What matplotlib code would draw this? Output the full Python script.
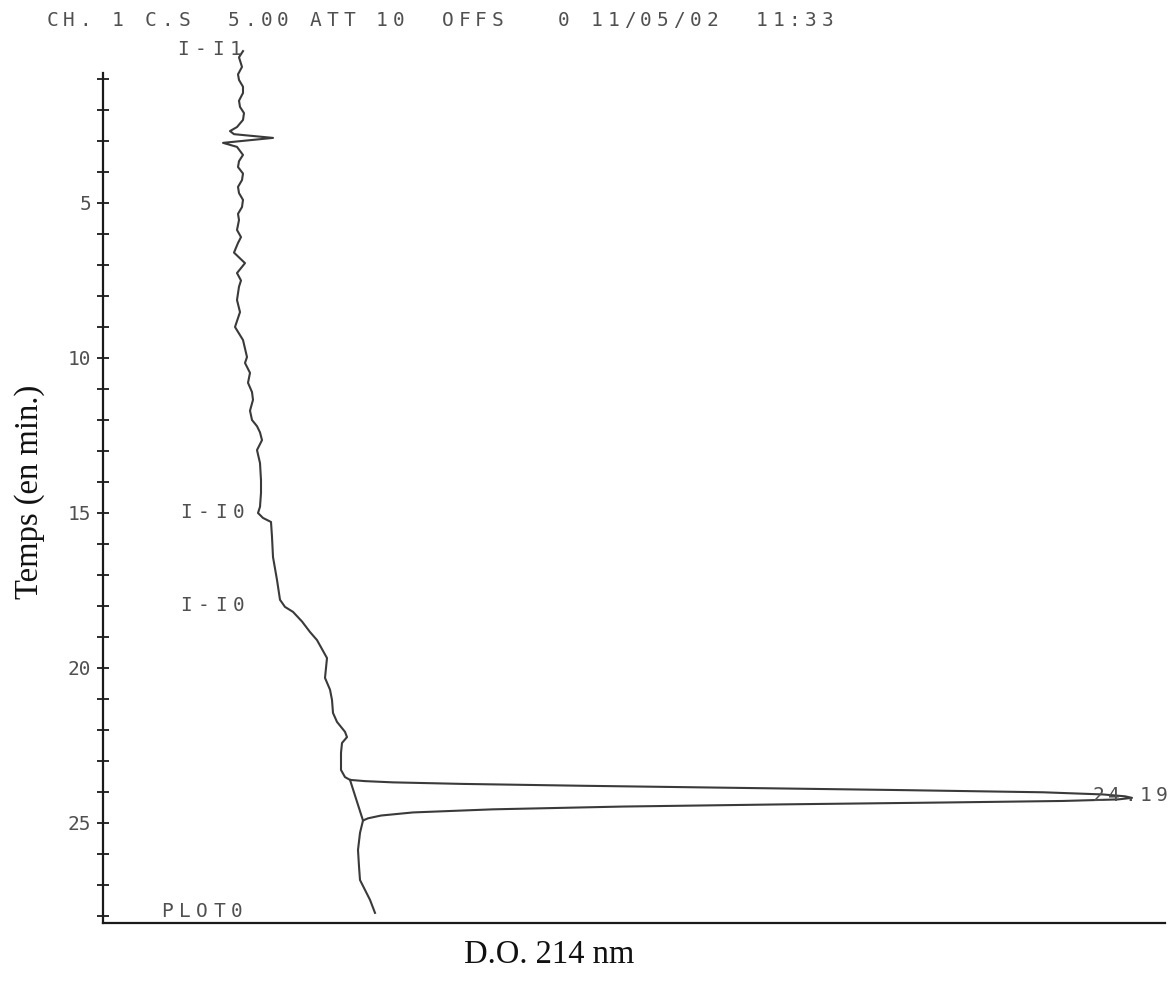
import matplotlib
matplotlib.use("Agg")
import matplotlib.pyplot as plt
from matplotlib import transforms

# ---- data (time in min, absorbance in arbitrary D.O. units) ----
baseline_time = [0.10, 0.30, 0.61, 0.85, 1.03, 1.25, 1.45, 1.70, 1.90, 2.10, 2.32, 2.55, 2.68, 2.78,
                 2.90, 3.06, 3.19, 3.45, 3.65, 3.84, 4.05, 4.26, 4.48, 4.68, 4.90, 5.13, 5.35,
                 5.55, 5.87, 6.10, 6.29, 6.60, 6.94, 7.26, 7.50, 7.70, 8.13, 8.52, 9.00, 9.42,
                 9.97, 10.16, 10.48, 10.80, 11.10, 11.35, 11.70, 12.00, 12.20, 12.40, 12.65, 12.97,
                 13.39, 13.94, 14.35, 14.80, 15.00, 15.16, 15.29, 15.77, 16.42, 17.16, 17.80,
                 18.03, 18.19, 18.50, 18.84, 19.10, 19.68, 20.00, 20.32, 20.70, 21.03, 21.45,
                 21.74, 22.06, 22.23, 22.42, 22.74, 23.29, 23.52, 23.61]
baseline_do = [0.140, 0.136, 0.139, 0.135, 0.136, 0.140, 0.140, 0.136, 0.137, 0.141, 0.140, 0.134,
               0.127, 0.131, 0.170, 0.120, 0.134, 0.140, 0.136, 0.135, 0.140, 0.139, 0.135, 0.136,
               0.140, 0.139, 0.135, 0.136, 0.134, 0.138, 0.135, 0.131, 0.142, 0.134, 0.138, 0.136,
               0.134, 0.137, 0.132, 0.140, 0.144, 0.142, 0.147, 0.145, 0.149, 0.150, 0.147, 0.149,
               0.154, 0.157, 0.159, 0.154, 0.157, 0.158, 0.158, 0.157, 0.155, 0.160, 0.168,
               0.169, 0.170, 0.174, 0.177, 0.182, 0.190, 0.199, 0.207, 0.214, 0.224, 0.223,
               0.222, 0.227, 0.229, 0.230, 0.234, 0.242, 0.244, 0.239, 0.238, 0.238, 0.242, 0.247]

peak_up_time = [23.61, 23.65, 23.69, 23.74, 23.80, 23.87, 23.94, 24.01, 24.08, 24.14, 24.19]
peak_up_do = [0.247, 0.262, 0.290, 0.360, 0.480, 0.640, 0.800, 0.940, 1.000, 1.022, 1.029]
peak_down_time = [24.19, 24.24, 24.29, 24.34, 24.40, 24.47, 24.56, 24.66, 24.76, 24.85, 24.92]
peak_down_do = [1.029, 1.015, 0.960, 0.840, 0.680, 0.520, 0.390, 0.310, 0.278, 0.265, 0.260]

tail_time = [24.92, 25.32, 25.87, 26.40, 26.84, 27.16, 27.48, 27.90]
tail_do = [0.260, 0.257, 0.255, 0.256, 0.257, 0.262, 0.267, 0.272]

peak_baseline_time = [23.61, 24.92]
peak_baseline_do = [0.247, 0.260]

y_ticks_major = [5, 10, 15, 20, 25]
y_ticks_minor = list(range(1, 29))

header = "CH. 1 C.S  5.00 ATT 10  OFFS   0 11/05/02  11:33"
event_labels = ["I-I1", "I-I0", "I-I0", "PLOT0"]
event_times = [0.06, 15.0, 18.0, 27.87]
event_do = [0.080, 0.083, 0.083, 0.064]
peak_label = "24.19"
peak_label_time = 24.1

# ---- figure ----
W, H, DPI = 1175, 981, 100
fig = plt.figure(figsize=(W / DPI, H / DPI), dpi=DPI)
ax = fig.add_axes([103 / W, (H - 923.1) / H, (1165 - 103) / W, 850.3 / H])

line_color = "#3a3a3a"
text_color = "#505050"

trace_t = baseline_time + peak_up_time[1:] + peak_down_time[1:] + tail_time[1:]
trace_d = baseline_do + peak_up_do[1:] + peak_down_do[1:] + tail_do[1:]
ax.plot(trace_d, trace_t, color=line_color, lw=1.5, clip_on=False, solid_joinstyle="round")
ax.plot(peak_baseline_do, peak_baseline_time, color=line_color, lw=1.5)

ax.set_xlim(0, 1.062)
ax.set_ylim(28.23, 0.8)

for s in ["top", "right"]:
    ax.spines[s].set_visible(False)
for s in ["left", "bottom"]:
    ax.spines[s].set_linewidth(1.6)
    ax.spines[s].set_color("#1a1a1a")

ax.set_xticks([])
ax.set_yticks(y_ticks_minor, minor=True)
ax.set_yticks(y_ticks_major)
ax.set_yticklabels([str(v) for v in y_ticks_major], family="DejaVu Sans Mono",
                   fontsize=14, color=text_color)
ax.tick_params(axis="y", which="both", direction="inout", length=9, width=1.3,
               color="#1a1a1a", pad=4)


def plotter_text(x, y, s, transform, pitch_px=17, **kw):
    """Draw text char by char with a fixed pitch, like a pen plotter."""
    for i, ch in enumerate(s):
        tr = transforms.offset_copy(transform, fig=fig, x=i * pitch_px * 72 / DPI, y=0,
                                    units="points")
        fig.text(x, y, ch, transform=tr, ha="center", va="center",
                 family="DejaVu Sans Mono", fontsize=14, color=text_color)


# header
plotter_text(52 / W, 1 - 20 / H, header, fig.transFigure, pitch_px=16.5)

# event labels (placed in data coordinates)
for lab, t, d in zip(event_labels, event_times, event_do):
    plotter_text(d, t, lab, ax.transData, pitch_px=17.5)
plotter_text(0.995, peak_label_time, peak_label, ax.transData, pitch_px=16)

fig.text(30 / W, 1 - 492 / H, "Temps (en min.)", rotation=90, ha="center", va="center",
         family="Liberation Serif", fontsize=23.5, color="#111111")
fig.text(549 / W, 1 - 955 / H, "D.O. 214 nm", ha="center", va="center",
         family="Liberation Serif", fontsize=23.5, color="#111111")

fig.savefig("out.png", dpi=DPI, facecolor="white")
